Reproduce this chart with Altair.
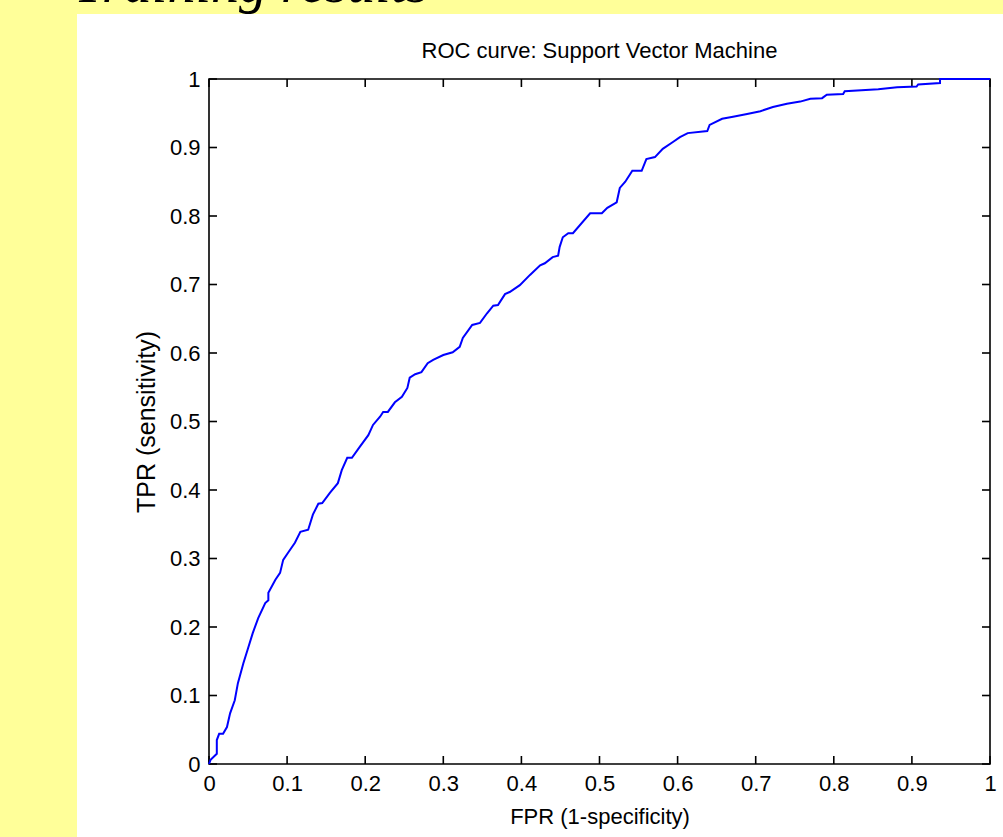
import altair as alt
import pandas as pd

# ROC curve of the SVM classifier (false positive rate vs. true positive rate)
fpr = [
    0.000, 0.002, 0.010, 0.010, 0.013, 0.018, 0.023, 0.027, 0.033, 0.037,
    0.044, 0.050, 0.056, 0.063, 0.072, 0.076, 0.076, 0.085, 0.091, 0.095,
    0.101, 0.110, 0.117, 0.127, 0.133, 0.140, 0.145, 0.155, 0.165, 0.170,
    0.177, 0.183, 0.193, 0.204, 0.210, 0.219, 0.223, 0.229, 0.238, 0.247,
    0.254, 0.257, 0.264, 0.272, 0.280, 0.287, 0.300, 0.312, 0.321, 0.325,
    0.337, 0.347, 0.356, 0.364, 0.370, 0.379, 0.385, 0.398, 0.411, 0.424,
    0.430, 0.440, 0.447, 0.449, 0.453, 0.460, 0.466, 0.488, 0.503, 0.510,
    0.522, 0.526, 0.533, 0.542, 0.554, 0.560, 0.571, 0.581, 0.594, 0.603,
    0.613, 0.638, 0.641, 0.657, 0.671, 0.689, 0.706, 0.722, 0.740, 0.757,
    0.770, 0.785, 0.791, 0.812, 0.814, 0.857, 0.881, 0.906, 0.908, 0.936,
    0.936, 1.000,
]
tpr = [
    0.000, 0.006, 0.015, 0.035, 0.044, 0.044, 0.054, 0.074, 0.093, 0.118,
    0.147, 0.169, 0.191, 0.213, 0.235, 0.239, 0.250, 0.269, 0.279, 0.298,
    0.308, 0.323, 0.339, 0.342, 0.364, 0.380, 0.381, 0.396, 0.410, 0.429,
    0.447, 0.447, 0.463, 0.480, 0.495, 0.507, 0.514, 0.514, 0.528, 0.536,
    0.549, 0.564, 0.569, 0.572, 0.585, 0.590, 0.597, 0.601, 0.609, 0.622,
    0.641, 0.644, 0.658, 0.669, 0.670, 0.686, 0.689, 0.699, 0.714, 0.728,
    0.731, 0.740, 0.742, 0.755, 0.769, 0.775, 0.775, 0.804, 0.804, 0.812,
    0.820, 0.841, 0.850, 0.866, 0.866, 0.883, 0.886, 0.898, 0.908, 0.915,
    0.921, 0.924, 0.933, 0.942, 0.945, 0.949, 0.953, 0.959, 0.964, 0.967,
    0.971, 0.972, 0.977, 0.978, 0.982, 0.985, 0.988, 0.989, 0.992, 0.994,
    1.000, 1.000,
]
assert len(fpr) == len(tpr)

tick_values = [0, 0.1, 0.2, 0.3, 0.4, 0.5, 0.6, 0.7, 0.8, 0.9, 1]

slide_title = "Training results"
plot_title = "ROC curve: Support Vector Machine"
x_title = "FPR (1-specificity)"
y_title = "TPR (sensitivity)"

W, H = 781, 685
SANS = "Liberation Sans"
SERIF = "Liberation Serif"

roc = pd.DataFrame({"fpr": fpr, "tpr": tpr, "step": range(len(fpr))})
ticks = pd.DataFrame({"v": tick_values})
one = pd.DataFrame({"k": [0]})

xs = alt.Scale(domain=[0, 1], nice=False, zero=False)
ys = alt.Scale(domain=[0, 1], nice=False, zero=False)

# white slide panel behind the figure
panel = alt.Chart(one).mark_rect(color="white").encode(
    x=alt.value(-132), x2=alt.value(W + 13),
    y=alt.value(-65), y2=alt.value(H + 73),
)

# slide heading, partly above the top edge of the page
heading = alt.Chart(one).mark_text(
    text=slide_title, font=SERIF, fontStyle="italic", fontSize=56,
    align="left", baseline="alphabetic", color="black",
).encode(x=alt.value(-135), y=alt.value(-77))

# figure title above the axes box
fig_title = alt.Chart(one).mark_text(
    text=plot_title, font=SANS, fontSize=22, align="center",
    baseline="alphabetic", color="black",
).encode(x=alt.value(W / 2), y=alt.value(-21))

# axes box
box = alt.Chart(one).mark_rect(
    fill=None, stroke="black", strokeWidth=1.6
).encode(x=alt.value(0), x2=alt.value(W), y=alt.value(0), y2=alt.value(H))

line = alt.Chart(roc).mark_line(color="#0000FF", strokeWidth=2).encode(
    x=alt.X("fpr:Q", scale=xs, axis=alt.Axis(
        values=tick_values, format="~g", title=x_title, orient="bottom",
        ticks=False, domain=False, grid=False, labelPadding=9,
        titlePadding=12, labelFont=SANS, labelFontSize=22,
        titleFont=SANS, titleFontSize=22, titleFontWeight="normal",
        labelColor="black", titleColor="black", labelFlush=False,
        zindex=2)),
    y=alt.Y("tpr:Q", scale=ys, axis=alt.Axis(
        values=tick_values, format="~g", title=y_title, orient="left",
        ticks=False, domain=False, grid=False, labelPadding=9,
        titlePadding=10, labelFont=SANS, labelFontSize=22,
        titleFont=SANS, titleFontSize=25, titleFontWeight="normal",
        labelColor="black", titleColor="black", labelFlush=False,
        zindex=2)),
    order="step:Q",
)

# inward tick marks on all four sides of the box
TL = 8
tick_style = dict(color="black", strokeWidth=1.6)
xt_bottom = alt.Chart(ticks).mark_rule(**tick_style).encode(
    x=alt.X("v:Q", scale=xs), y=alt.value(H), y2=alt.value(H - TL))
xt_top = alt.Chart(ticks).mark_rule(**tick_style).encode(
    x=alt.X("v:Q", scale=xs), y=alt.value(0), y2=alt.value(TL))
yt_left = alt.Chart(ticks).mark_rule(**tick_style).encode(
    y=alt.Y("v:Q", scale=ys), x=alt.value(0), x2=alt.value(TL))
yt_right = alt.Chart(ticks).mark_rule(**tick_style).encode(
    y=alt.Y("v:Q", scale=ys), x=alt.value(W), x2=alt.value(W - TL))

chart = alt.layer(
    panel, heading, fig_title, box, xt_bottom, xt_top, yt_left, yt_right, line
).properties(
    width=W, height=H,
    background="#FFFF99",
    padding={"left": 209, "top": 79, "right": 13, "bottom": 73},
    autosize=alt.AutoSizeParams(type="none"),
).configure_view(
    stroke=None, fill="white",
)

chart.save("out.html", embed_options={"renderer": "svg", "actions": False})
